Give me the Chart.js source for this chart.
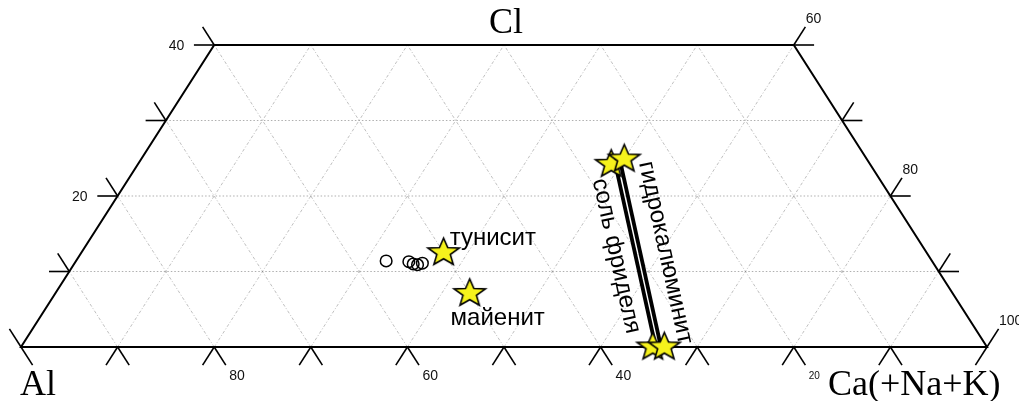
<!DOCTYPE html>
<html>
<head>
<meta charset="utf-8">
<script src="https://cdn.jsdelivr.net/npm/chart.js@4.4.1/dist/chart.umd.min.js"></script>
<style>
  html, body { margin: 0; padding: 0; background: #fff; }
  #wrap { width: 1019px; height: 401px; position: relative; }
</style>
</head>
<body>
<div id="wrap"><canvas id="tern"></canvas></div>
<script>
// Compositions in at.%: Cl and Ca(+Na+K); Al = 100 - Cl - Ca.
const mineralNames = ['тунисит', 'майенит'];
const mineralCl = [12.5, 7.1];
const mineralCa = [37.5, 42.9];

// analysed grains (open circles)
const sampleCl = [11.4, 11.3, 11.0, 10.9, 11.1];
const sampleCa = [32.1, 34.5, 35.1, 35.6, 36.0];

// Cl-rich and Cl-free end members of the two layered hydrates
const endCl = [24.2, 24.9, 0, 0];
const endCa = [49.0, 50.0, 65.4, 66.6];

// composition lines between them
const seriesNames = ['соль фриделя', 'гидрокалюминит'];
const friedelCl = [24.1, 0];
const friedelCa = [49.5, 65.7];
const hydrocalCl = [24.2, 0];
const hydrocalCa = [50.0, 66.25];

// diagram frame, grid and tick labels
const clMax = 40;
const gridCl = [10, 20, 30];
const gridSteps = [10, 20, 30, 40, 50, 60, 70, 80, 90];
const baseTicks = [0, 10, 20, 30, 40, 50, 60, 70, 80, 90, 100];
const sideTicks = [0, 10, 20, 30, 40];
const leftLabelCl = [20, 40];            // Cl on the left edge
const rightLabelCl = [0, 20, 40];        // position on the right edge
const rightLabelText = ['100', '80', '60']; // Ca there
const baseLabelCa = [20, 40, 60, 80];    // position on the base
const baseLabelText = ['80', '60', '40', '20']; // Al there
const apexNames = { top: 'Cl', left: 'Al', right: 'Ca(+Na+K)' };

// ternary (Cl, Ca) -> plot coordinates
const tx = (cl, ca) => ca + cl / 2;
const pts = (cls, cas) => cls.map((cl, i) => ({ x: tx(cl, cas[i]), y: cl }));

function starImage(R, fill) {
  const s = Math.ceil(R * 2 + 6);
  const c = document.createElement('canvas');
  c.width = s; c.height = s;
  const g = c.getContext('2d');
  g.translate(s / 2, s / 2);
  g.beginPath();
  for (let i = 0; i < 10; i++) {
    const r = i % 2 ? R * 0.43 : R;
    const a = -Math.PI / 2 + i * Math.PI / 5;
    g.lineTo(r * Math.cos(a), r * Math.sin(a) * 0.88);
  }
  g.closePath();
  g.fillStyle = fill;
  g.fill();
  g.lineWidth = 1.6;
  g.strokeStyle = '#000';
  g.stroke();
  return c;
}
const star = starImage(16.5, '#f6f21c');

const SANS = '"Liberation Sans", Arial, sans-serif';
const SERIF = '"Liberation Serif", "Times New Roman", serif';

const ternaryFrame = {
  id: 'ternaryFrame',
  beforeDatasetsDraw(chart) {
    const { ctx, scales: { x, y } } = chart;
    const P = (cl, ca) => [x.getPixelForValue(tx(cl, ca)), y.getPixelForValue(cl)];
    const seg = (a, b) => { ctx.beginPath(); ctx.moveTo(a[0], a[1]); ctx.lineTo(b[0], b[1]); ctx.stroke(); };
    ctx.save();

    // dotted grid
    ctx.lineWidth = 1;
    ctx.strokeStyle = 'rgba(110,110,110,0.55)';
    ctx.setLineDash([1.5, 2]);
    gridCl.forEach(cl => seg(P(cl, 0), P(cl, 100 - cl)));
    ctx.setLineDash([3, 2, 1, 2]);
    ctx.strokeStyle = 'rgba(130,130,130,0.5)';
    gridSteps.forEach(v => {
      const top = Math.min(clMax, 100 - v);
      seg(P(0, v), P(top, v));                   // constant Ca
      seg(P(0, 100 - v), P(top, 100 - v - top)); // constant Al
    });
    ctx.setLineDash([]);

    // frame
    ctx.strokeStyle = '#000';
    ctx.lineWidth = 2;
    ctx.lineJoin = 'miter';
    ctx.beginPath();
    [P(0, 0), P(0, 100), P(clMax, 100 - clMax), P(clMax, 0)].forEach((p, i) => i ? ctx.lineTo(p[0], p[1]) : ctx.moveTo(p[0], p[1]));
    ctx.closePath();
    ctx.stroke();

    // ticks: base ticks point down, side ticks point outwards
    const L = 2.4, H = 2.1;
    ctx.lineWidth = 1.6;
    baseTicks.forEach(c => {
      if (c > 0) seg(P(0, c), P(-L, c));
      if (c < 100) seg(P(0, c), P(-L, c + L));
    });
    sideTicks.forEach(t => {
      seg(P(t, 0), P(t + L, -L));
      if (t > 0) seg(P(t, 0), P(t, -H));
      seg(P(t, 100 - t), P(t + L, 100 - t));
      if (t > 0) seg(P(t, 100 - t), P(t, 100 - t + H));
    });

    // tick labels
    ctx.fillStyle = '#111';
    ctx.textBaseline = 'middle';
    ctx.font = '14px ' + SANS;
    ctx.textAlign = 'right';
    leftLabelCl.forEach(cl => {
      const p = P(cl, 0);
      ctx.fillText(String(cl), p[0] - 30, p[1] + 1);
    });
    ctx.textAlign = 'left';
    rightLabelCl.forEach((cl, i) => {
      const p = P(cl, 100 - cl);
      ctx.fillText(rightLabelText[i], p[0] + 12, p[1] - 26);
    });
    baseLabelCa.forEach((ca, i) => {
      const p = P(0, ca);
      // the last one sits against the apex name and is set smaller
      ctx.font = (i === baseLabelCa.length - 1 ? '10px ' : '14px ') + SANS;
      ctx.fillText(baseLabelText[i], p[0] + 15, p[1] + 29);
    });

    // apex names
    ctx.fillStyle = '#000';
    ctx.font = '36px ' + SERIF;
    ctx.textBaseline = 'alphabetic';
    ctx.textAlign = 'center';
    const tl = P(clMax, 0), tr = P(clMax, 100 - clMax);
    ctx.fillText(apexNames.top, (tl[0] + tr[0]) / 2 + 2, tl[1] - 12);
    ctx.textAlign = 'left';
    const bl = P(0, 0), br = P(0, 100);
    ctx.fillText(apexNames.left, bl[0] - 1, bl[1] + 48);
    ctx.fillText(apexNames.right, br[0] - 159, br[1] + 48);
    ctx.restore();
  },
  afterDatasetsDraw(chart) {
    const { ctx, scales: { x, y } } = chart;
    const P = (cl, ca) => [x.getPixelForValue(tx(cl, ca)), y.getPixelForValue(cl)];
    ctx.save();
    ctx.fillStyle = '#000';
    ctx.font = '24px ' + SANS;
    ctx.textBaseline = 'alphabetic';

    // mineral names next to their stars
    let p = P(mineralCl[0], mineralCa[0]);
    ctx.textAlign = 'left';
    ctx.fillText(mineralNames[0], p[0] + 6, p[1] - 8);
    p = P(mineralCl[1], mineralCa[1]);
    ctx.textAlign = 'center';
    ctx.fillText(mineralNames[1], p[0] + 28, p[1] + 32);

    // series names along their lines
    const along = (cls, cas, text, dx, dy) => {
      const a = P(cls[0], cas[0]), b = P(cls[1], cas[1]);
      const ang = Math.atan2(b[1] - a[1], b[0] - a[0]);
      ctx.save();
      ctx.translate((a[0] + b[0]) / 2 + dx, (a[1] + b[1]) / 2 + dy);
      ctx.rotate(ang);
      ctx.textAlign = 'center';
      ctx.textBaseline = 'middle';
      ctx.fillText(text, 0, 0);
      ctx.restore();
    };
    along(friedelCl, friedelCa, seriesNames[0], -19.5, 0);
    along(hydrocalCl, hydrocalCa, seriesNames[1], 24.5, -3);
    ctx.restore();
  }
};

new Chart(document.getElementById('tern'), {
  type: 'scatter',
  data: {
    datasets: [
      {
        label: 'end members',
        data: pts(endCl, endCa),
        pointStyle: star, pointRadius: 16,
        order: 0, clip: false
      },
      {
        label: 'minerals',
        data: pts(mineralCl, mineralCa),
        pointStyle: star, pointRadius: 16,
        order: 1, clip: false
      },
      {
        label: 'samples',
        data: pts(sampleCl, sampleCa),
        pointStyle: 'circle', pointRadius: 5.8,
        borderColor: '#000', borderWidth: 1.5,
        backgroundColor: 'rgba(0,0,0,0)',
        order: 2, clip: false
      },
      {
        label: seriesNames[0],
        data: pts(friedelCl, friedelCa),
        showLine: true, borderColor: '#000', borderWidth: 3.8,
        pointRadius: 0, order: 3, clip: false
      },
      {
        label: seriesNames[1],
        data: pts(hydrocalCl, hydrocalCa),
        showLine: true, borderColor: '#000', borderWidth: 3.8,
        pointRadius: 0, order: 3, clip: false
      }
    ]
  },
  options: {
    responsive: true,
    maintainAspectRatio: false,
    animation: false,
    events: [],
    layout: { padding: { left: 21, right: 32, top: 45, bottom: 54 } },
    scales: {
      x: { type: 'linear', min: 0, max: 100, display: false },
      y: { type: 'linear', min: 0, max: clMax, display: false }
    },
    plugins: { legend: { display: false }, tooltip: { enabled: false } }
  },
  plugins: [ternaryFrame]
});
</script>
</body>
</html>
